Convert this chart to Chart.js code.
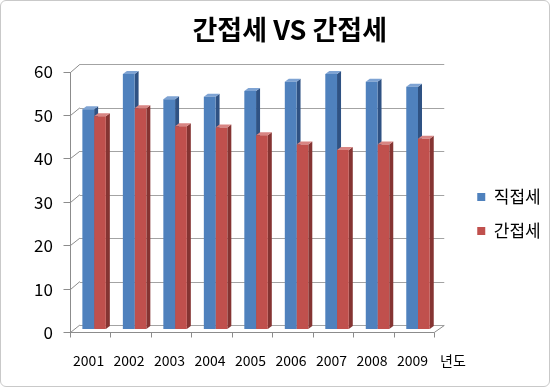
<!DOCTYPE html>
<html>
<head>
<meta charset="utf-8">
<script src="https://cdn.jsdelivr.net/npm/chart.js@4.4.1/dist/chart.umd.min.js"></script>
<style>
    html, body { margin: 0; padding: 0; background: #fff; }
    #wrap { position: relative; width: 550px; height: 387px; }
    #frame {
        position: absolute; left: 0; top: 0; width: 548px; height: 385px;
        border: 1px solid #c9c9c9; border-radius: 6px; pointer-events: none;
    }
</style>
</head>
<body>
<div id="wrap">
    <canvas id="chart" width="550" height="387"></canvas>
    <div id="frame"></div>
</div>
<script>
// ── Data ──────────────────────────
const years = ['2001', '2002', '2003', '2004', '2005', '2006', '2007', '2008', '2009'];
const directTax = [50.6, 58.7, 52.9, 53.5, 54.8, 56.9, 58.7, 56.9, 55.8];   // 직접세
const indirectTax = [49.0, 50.8, 46.7, 46.4, 44.6, 42.5, 41.2, 42.5, 43.8]; // 간접세
const yTicks = [0, 10, 20, 30, 40, 50, 60];
const xUnit = '년도';

const FONT = "'Noto Sans CJK KR', 'Noto Sans', sans-serif";

// Face colours for the 3D look
const FACES = [
    { front: '#4f81bd', side: '#2f5283', top: '#7ea3d3' },
    { front: '#c0504d', side: '#853432', top: '#d88583' }
];

// depth of the plot box and of each bar
const WALL = { front: { dx: -4, dy: 3.2 }, back: { dx: 6, dy: -4 } };
const BAR_D = { dx: 4, dy: 3 };

function poly(ctx, pts, fill) {
    ctx.beginPath();
    ctx.moveTo(pts[0][0], pts[0][1]);
    for (let i = 1; i < pts.length; i++) ctx.lineTo(pts[i][0], pts[i][1]);
    ctx.closePath();
    ctx.fillStyle = fill;
    ctx.fill();
}

// Back wall, floor, axis lines and the bar sides / tops
const box3d = {
    id: 'box3d',
    beforeDatasetsDraw(chart) {
        const { ctx, chartArea: a, scales: { y } } = chart;
        const f = WALL.front, b = WALL.back;
        ctx.save();
        ctx.lineWidth = 1;

        // back wall grid
        ctx.strokeStyle = '#a3a3a3';
        yTicks.forEach(v => {
            const py = Math.round(y.getPixelForValue(v) + b.dy) + 0.5;
            ctx.beginPath();
            ctx.moveTo(a.left + b.dx, py);
            ctx.lineTo(a.right + b.dx, py);
            ctx.stroke();
        });

        // floor
        const fy = Math.round(y.getPixelForValue(0) + f.dy) + 0.5;
        const by = Math.round(y.getPixelForValue(0) + b.dy) + 0.5;
        ctx.strokeStyle = '#8c8c8c';
        ctx.beginPath();
        ctx.moveTo(a.left + f.dx, fy);
        ctx.lineTo(a.right + f.dx, fy);
        ctx.lineTo(a.right + b.dx, by);
        ctx.stroke();

        // x tick marks on the front edge
        for (let i = 0; i <= years.length; i++) {
            const px = Math.round(a.left + f.dx + (a.right - a.left) * i / years.length) + 0.5;
            ctx.beginPath();
            ctx.moveTo(px, fy);
            ctx.lineTo(px, fy + 5);
            ctx.stroke();
        }

        // left axis with ticks and links to the wall
        const ax = Math.round(a.left + f.dx) + 0.5;
        ctx.beginPath();
        ctx.moveTo(ax, Math.round(y.getPixelForValue(60) + f.dy));
        ctx.lineTo(ax, fy);
        ctx.stroke();
        yTicks.forEach(v => {
            const py = Math.round(y.getPixelForValue(v) + f.dy) + 0.5;
            ctx.beginPath();
            ctx.moveTo(ax - 7, py);
            ctx.lineTo(ax, py);
            ctx.lineTo(a.left + b.dx, y.getPixelForValue(v) + b.dy);
            ctx.stroke();
        });

        // bar sides and tops
        chart.data.datasets.forEach((ds, di) => {
            const meta = chart.getDatasetMeta(di);
            const c = FACES[di];
            meta.data.forEach(el => {
                const l = el.x - el.width / 2, r = el.x + el.width / 2;
                poly(ctx, [[r, el.y], [r + BAR_D.dx, el.y - BAR_D.dy],
                           [r + BAR_D.dx, el.base - BAR_D.dy], [r, el.base]], c.side);
                poly(ctx, [[l, el.y], [l + BAR_D.dx, el.y - BAR_D.dy],
                           [r + BAR_D.dx, el.y - BAR_D.dy], [r, el.y]], c.top);
            });
        });
        ctx.restore();
    },
    afterDraw(chart) {
        // unit label after the last year
        const { ctx, scales: { x } } = chart;
        const last = x.getPixelForValue(years.length - 1);
        const step = last - x.getPixelForValue(years.length - 2);
        ctx.save();
        ctx.font = '14px ' + FONT;
        ctx.fillStyle = '#000';
        ctx.textAlign = 'center';
        ctx.textBaseline = 'middle';
        ctx.fillText(xUnit, last + step - 5.5, chart.chartArea.bottom + 32);
        ctx.restore();
    }
};

new Chart(document.getElementById('chart').getContext('2d'), {
    type: 'bar',
    data: {
        labels: years,
        datasets: [
            { label: '직접세', data: directTax, backgroundColor: FACES[0].front },
            { label: '간접세', data: indirectTax, backgroundColor: FACES[1].front }
        ]
    },
    options: {
        responsive: false,
        animation: false,
        events: [],
        datasets: { bar: { categoryPercentage: 0.58, barPercentage: 1.0, borderWidth: 0 } },
        layout: { padding: { top: 10, left: 34, right: 4.5, bottom: 10 } },
        plugins: {
            title: {
                display: true,
                text: '간접세 VS 간접세',
                color: '#000',
                font: { family: FONT, size: 27, weight: 'bold' },
                padding: { top: 4, bottom: 22 }
            },
            legend: {
                position: 'right',
                title: { display: true, text: '', font: { size: 12 }, padding: { top: 13.3, bottom: 13.3 } },
                labels: {
                    boxWidth: 8,
                    boxHeight: 8,
                    padding: 17,
                    color: '#000',
                    font: { family: FONT, size: 17 }
                }
            },
            tooltip: { enabled: false }
        },
        scales: {
            x: {
                grid: { display: false },
                border: { display: false },
                ticks: { color: '#000', padding: 15, labelOffset: -5.5, maxRotation: 0,
                         font: { family: FONT, size: 14 } },
                afterFit: s => { s.height = 48; }
            },
            y: {
                min: 0,
                max: 60,
                grid: { display: false, tickLength: 21 },
                border: { display: false },
                ticks: { stepSize: 10, color: '#000', padding: 0, labelOffset: 3.5,
                         font: { family: FONT, size: 17 } }
            },
            gap: {
                position: 'right',
                display: true,
                grid: { display: false },
                border: { display: false },
                ticks: { display: false },
                afterFit: s => { s.width = 22; }
            }
        }
    },
    plugins: [box3d]
});
</script>
</body>
</html>
